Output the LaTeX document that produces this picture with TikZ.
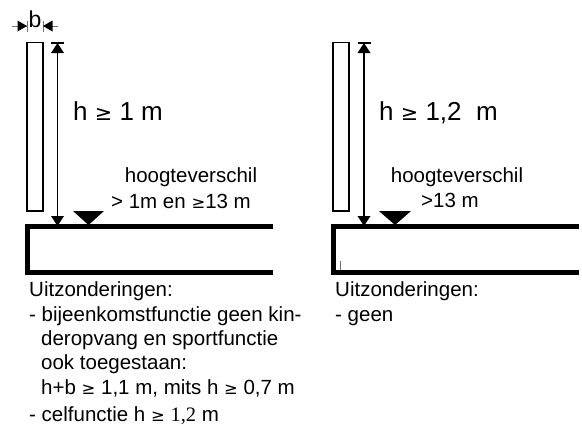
\documentclass[tikz,border=0pt]{standalone}
\usepackage{fontspec}
\setmainfont{Liberation Sans}
\newfontfamily\symfont{DejaVu Sans}
\newfontfamily\serfont{Liberation Serif}
\usetikzlibrary{arrows.meta}
\newcommand{\gee}{{\symfont\scalebox{0.8}{≥}}}
\tikzset{
  x=1pt,y=-1pt,
  txt/.style={inner sep=0pt,anchor=base west,font=\fontsize{20.5}{22}\selectfont},
  big/.style={inner sep=0pt,anchor=base west,font=\fontsize{26}{28}\selectfont},
  mid/.style={inner sep=0pt,anchor=base,font=\fontsize{20.5}{22}\selectfont},
  wall/.style={draw=black,line width=1.5pt,fill=white},
  floorline/.style={draw=black,line width=5.5pt,miter limit=10},
  dim/.style={draw=black,line width=1.2pt},
  tip/.style={fill=black,draw=none},
  ext/.style={draw=black!55,line width=0.6pt}
}
\begin{document}
\begin{tikzpicture}
\useasboundingbox (0,0) rectangle (582,426);
% --- left
\node[wall,minimum width=16pt,minimum height=168.5pt,inner sep=0pt] (wallL) at (35,126.7) {};
\coordinate (extA) at (27,21); \coordinate (extAb) at (27,32);
\coordinate (extB) at (43,21); \coordinate (extBb) at (43,32);
\draw[ext] (extA)--(extAb); \draw[ext] (extB)--(extBb);
\coordinate (bL) at (12,26); \coordinate (bLt) at (27,26);
\coordinate (bR) at (58,26); \coordinate (bRt) at (43,26);
\draw[ext] (bL)--(bLt); \draw[ext] (bR)--(bRt);
\fill[tip] (bLt)--(17.5,20.5)--(17.5,31.5)--cycle;
\fill[tip] (bRt)--(52.5,20.5)--(52.5,31.5)--cycle;
\node[inner sep=0pt,anchor=base,font=\fontsize{23}{24}\selectfont] (bTxt) at (35,27) {b};
\coordinate (hLt) at (57.5,43); \coordinate (hLb) at (57.5,226);
\draw[dim] (hLt)--(hLb);
\draw[line width=1.6pt] (51,43)--(64,43);
\fill[tip] (hLt)--(51,53)--(64,53)--cycle;
\fill[tip] (hLb)--(51,216)--(64,216)--cycle;
\coordinate (f1) at (273,226.5); \coordinate (f2) at (27.7,226.5);
\coordinate (f3) at (27.7,272.5); \coordinate (f4) at (273,272.5);
\draw[floorline] (f1)--(f2)--(f3)--(f4);
\fill[tip] (73,211)--(104,211)--(88.5,225)--cycle;
\node[big] (hL) at (73,120) {h \gee\ 1 m};
\node[mid] (h1) at (191,182) {hoogteverschil};
\node[mid] (h2) at (181,208) {> 1m en \gee13 m};
\node[txt] (u1) at (29,296) {Uitzonderingen:};
\node[txt] (l1) at (29,321) {- bijeenkomstfunctie geen kin-};
\node[txt] (l2) at (41,345) {deropvang en sportfunctie};
\node[txt] (l3) at (41,369) {ook toegestaan:};
\node[txt] (l4) at (41,394) {h+b \gee\ 1,1 m, mits h \gee\ 0,7 m};
\node[txt] (l5) at (29,421) {- celfunctie h \gee\ {\serfont 1,2} m};
% --- right
\node[wall,minimum width=16pt,minimum height=168.5pt,inner sep=0pt] (wallR) at (341,126.7) {};
\coordinate (hRt) at (364,43); \coordinate (hRb) at (364,226);
\draw[dim] (hRt)--(hRb);
\draw[line width=1.6pt] (357.5,43)--(370.5,43);
\fill[tip] (hRt)--(357.5,53)--(370.5,53)--cycle;
\fill[tip] (hRb)--(357.5,216)--(370.5,216)--cycle;
\coordinate (g1) at (579,226.5); \coordinate (g2) at (333.7,226.5);
\coordinate (g3) at (333.7,272.5); \coordinate (g4) at (579,272.5);
\draw[floorline] (g1)--(g2)--(g3)--(g4);
\draw[ext] (340,261)--(340,270);
\fill[tip] (379,211)--(411,211)--(395,225)--cycle;
\node[big] (hR) at (379,120) {h \gee\ 1,2\ \ m};
\node[mid] (k1) at (457,182) {hoogteverschil};
\node[mid] (k2) at (450,207) {>13 m};
\node[txt] (u2) at (335,296) {Uitzonderingen:};
\node[txt] (m1) at (335,321) {- geen};
\end{tikzpicture}
\end{document}
